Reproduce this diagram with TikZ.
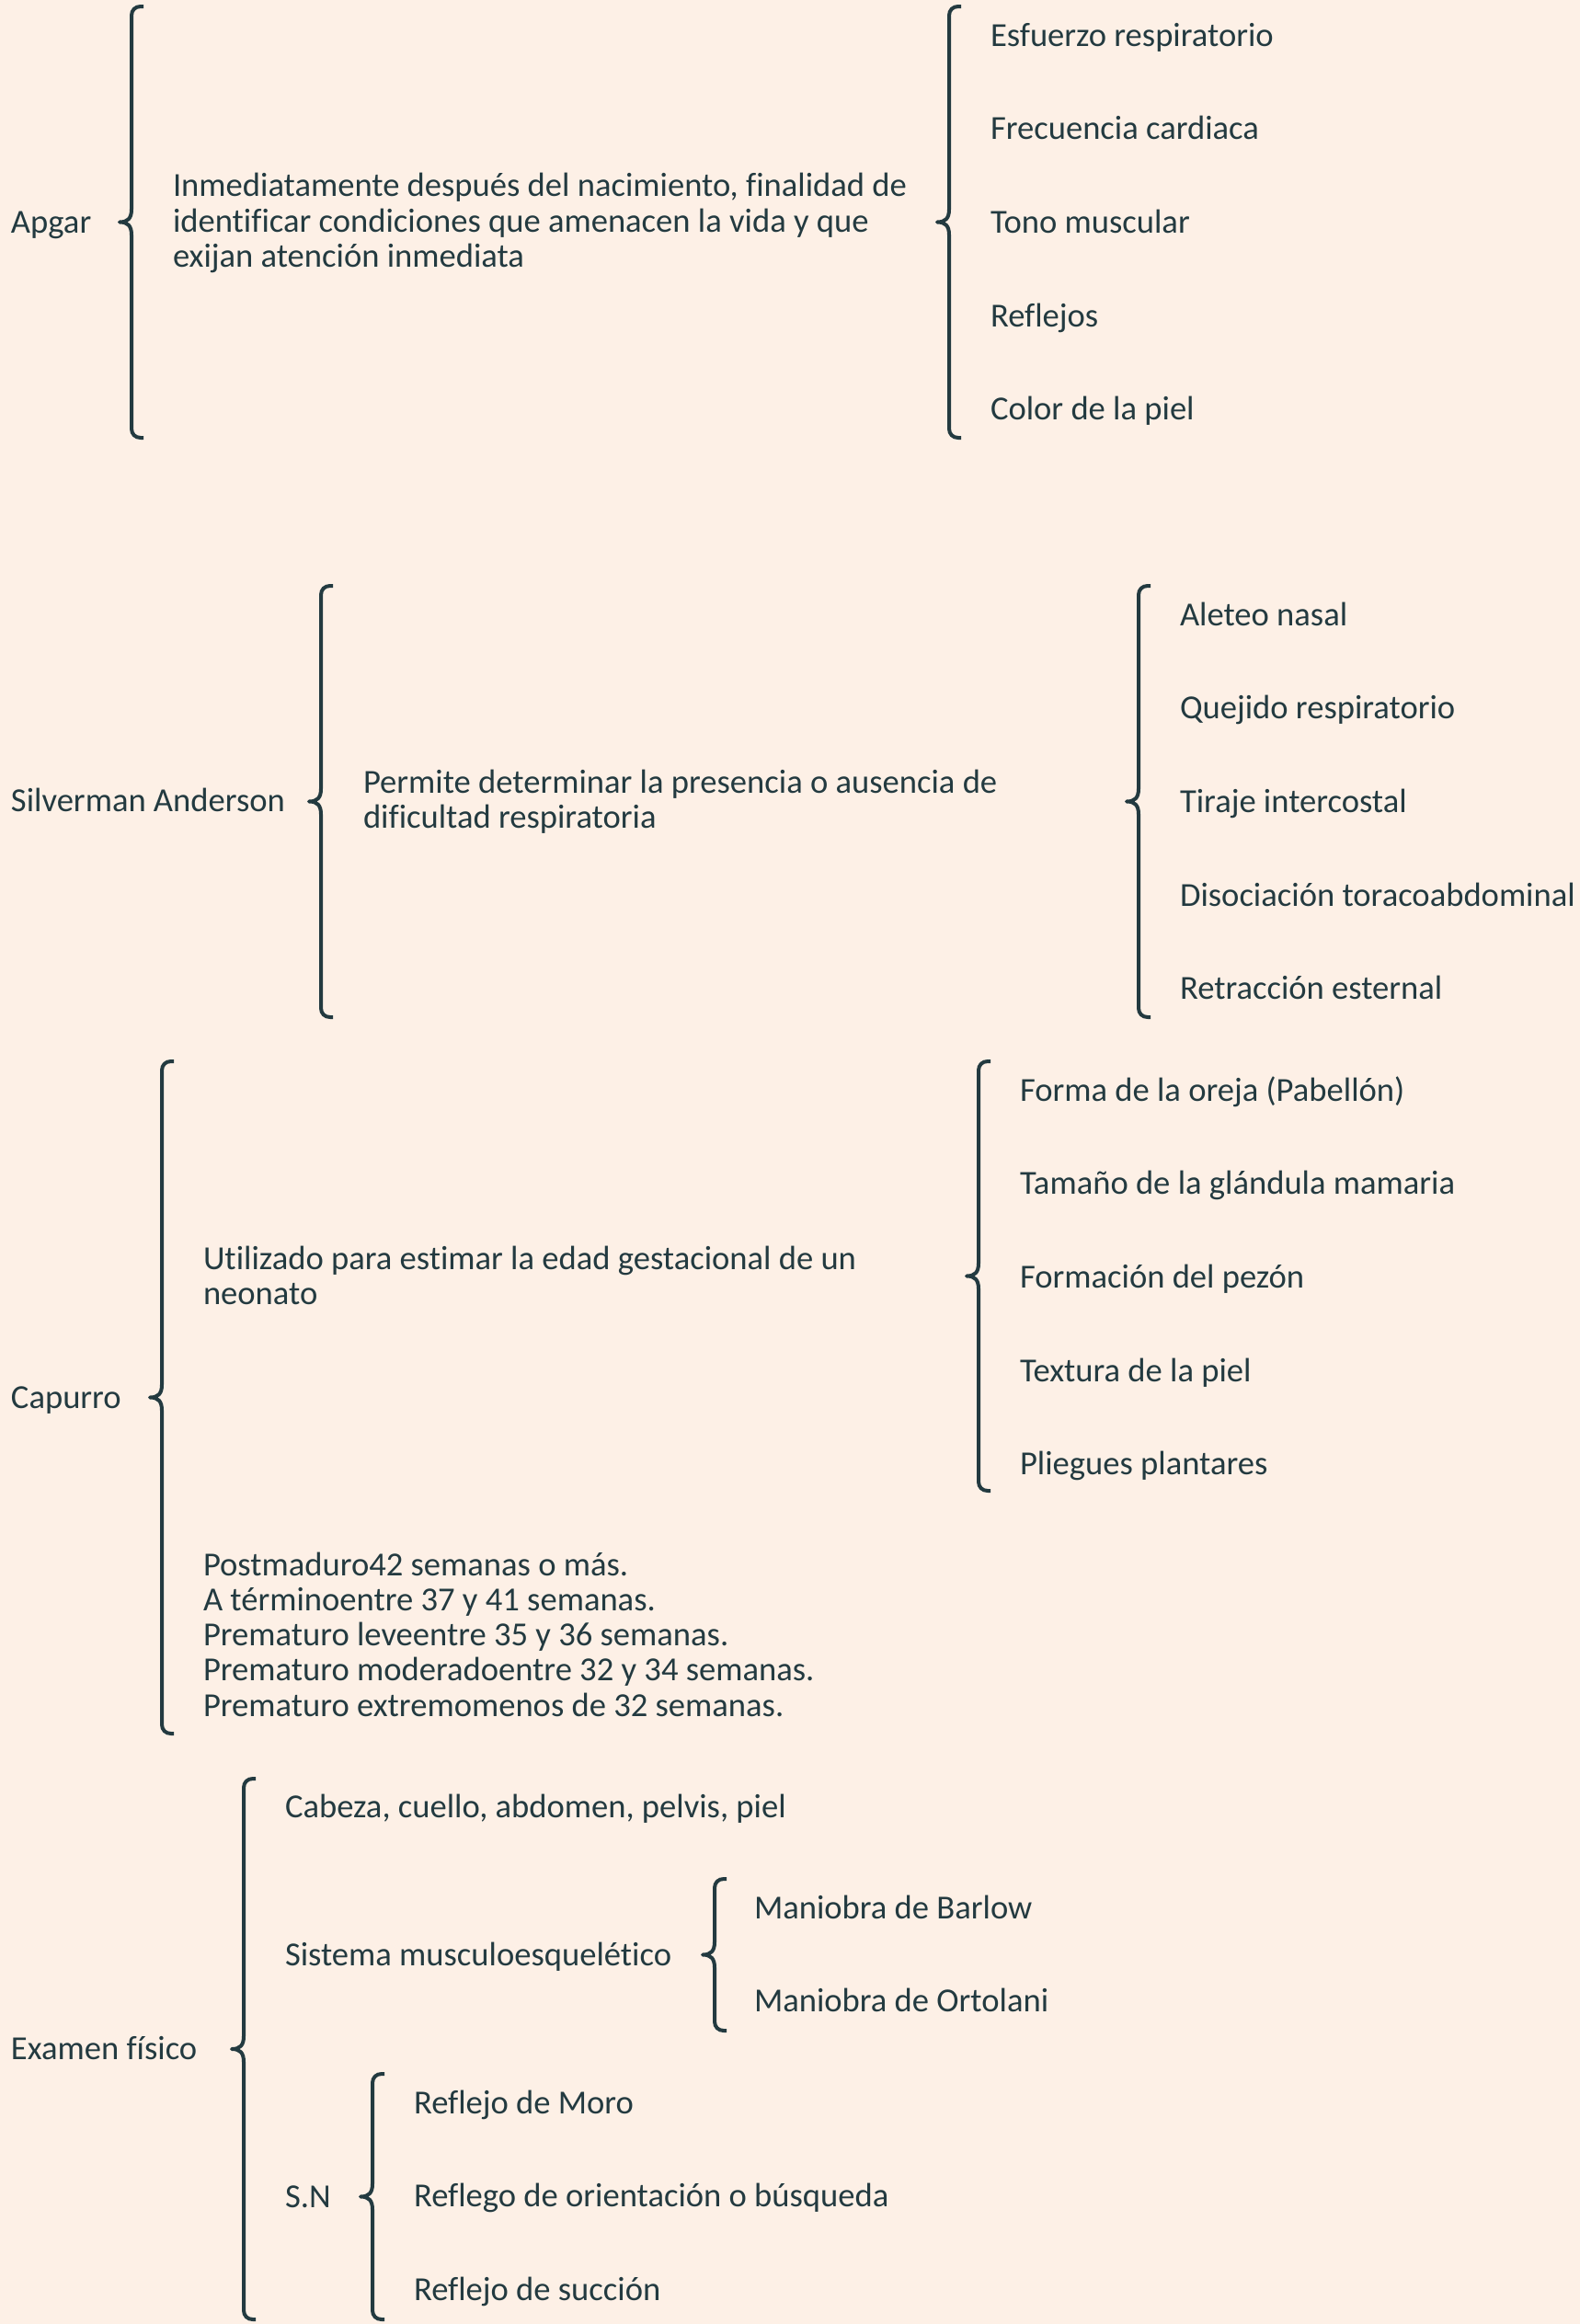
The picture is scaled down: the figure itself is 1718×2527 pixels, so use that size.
\documentclass[tikz,border=0pt]{standalone}
\usepackage{fontspec}
\setmainfont[Ligatures=NoCommon]{Carlito}
\definecolor{bg}{HTML}{FDF0E6}
\definecolor{ink}{HTML}{233A40}
\newlength\calw
\AtBeginDocument{%
  \settowidth\calw{\fontsize{20pt}{24pt}\selectfont Inmediatamente después del nacimiento, finalidad de}%
  \pgfmathsetmacro\fsz{798/\calw*20}%
  \xdef\fsz{\fsz}}
\def\txtfont{\fontsize{\fsz pt}{38.3pt}\selectfont}
\newcommand\mybrace[4]{%
  \pgfmathsetmacro\bmid{(#2+#3)/2}%
  \coordinate (#4-top) at (#1+13,#2);%
  \coordinate (#4-tip) at (#1-13,\bmid);%
  \coordinate (#4-bot) at (#1+13,#3);%
  \draw[brc] (#4-top) -- (#1+10,#2) .. controls (#1+4,#2) and (#1,#2+4) .. (#1,#2+10)
    -- (#1,\bmid-14) .. controls (#1,\bmid-4) and (#1-4,\bmid) .. (#4-tip)
    .. controls (#1-4,\bmid) and (#1,\bmid+4) .. (#1,\bmid+14)
    -- (#1,#3-10) .. controls (#1,#3-4) and (#1+4,#3) .. (#1+10,#3) -- (#4-bot);}
\begin{document}
\begin{tikzpicture}[x=1pt,y=-1pt,
  brc/.style={draw=ink,line width=4pt,line join=round},
  txt/.style={anchor=base west,inner sep=0pt,outer sep=0pt,text=ink,font=\txtfont}]
\fill[bg] (0,0) rectangle (1718,2527);
\useasboundingbox (0,0) rectangle (1718,2527);

% ---------- Apgar ----------
\node[txt] (apgar) at (12,253) {Apgar};
\mybrace{143}{7}{476}{bA}
\node[txt] (apgar-d1) at (188,213.5) {Inmediatamente después del nacimiento, finalidad de};
\node[txt] (apgar-d2) at (188,252) {identificar condiciones que amenacen la vida y que};
\node[txt] (apgar-d3) at (188,290.3) {exijan atención inmediata};
\mybrace{1032}{7}{476}{bA2}
\node[txt] (a1) at (1077,50) {Esfuerzo respiratorio};
\node[txt] (a2) at (1077,151.7) {Frecuencia cardiaca};
\node[txt] (a3) at (1077,253.4) {Tono muscular};
\node[txt] (a4) at (1077,355.1) {Reflejos};
\node[txt] (a5) at (1077,456.8) {Color de la piel};

% ---------- Silverman ----------
\node[txt] (silv) at (12,882) {Silverman Anderson};
\mybrace{349}{637}{1106}{bS}
\node[txt] (silv-d1) at (395,862.5) {Permite determinar la presencia o ausencia de};
\node[txt] (silv-d2) at (395,900.8) {dificultad respiratoria};
\mybrace{1238}{637}{1106}{bS2}
\node[txt] (s1) at (1283,680) {Aleteo nasal};
\node[txt] (s2) at (1283,781.7) {Quejido respiratorio};
\node[txt] (s3) at (1283,883.4) {Tiraje intercostal};
\node[txt] (s4) at (1283,985.1) {Disociación toracoabdominal};
\node[txt] (s5) at (1283,1086.8) {Retracción esternal};

% ---------- Capurro ----------
\node[txt] (cap) at (12,1531) {Capurro};
\mybrace{176}{1154}{1885}{bC}
\node[txt] (cap-d1) at (221,1380.4) {Utilizado para estimar la edad gestacional de un};
\node[txt] (cap-d2) at (221,1418.7) {neonato};
\mybrace{1064}{1154}{1621}{bC2}
\node[txt] (c1) at (1109,1197) {Forma de la oreja (Pabellón)};
\node[txt] (c2) at (1109,1298.7) {Tamaño de la glándula mamaria};
\node[txt] (c3) at (1109,1400.4) {Formación del pezón};
\node[txt] (c4) at (1109,1502.1) {Textura de la piel};
\node[txt] (c5) at (1109,1603.8) {Pliegues plantares};
\node[txt] (w1) at (221,1713) {Postmaduro42 semanas o más.};
\node[txt] (w2) at (221,1751.3) {A términoentre 37 y 41 semanas.};
\node[txt] (w3) at (221,1789.6) {Prematuro leveentre 35 y 36 semanas.};
\node[txt] (w4) at (221,1827.9) {Prematuro moderadoentre 32 y 34 semanas.};
\node[txt] (w5) at (221,1866.2) {Prematuro extremomenos de 32 semanas.};

% ---------- Examen fisico ----------
\node[txt] (ex) at (12,2239.5) {Examen físico};
\mybrace{265}{1934}{2522}{bE}
\node[txt] (e1) at (310,1976) {Cabeza, cuello, abdomen, pelvis, piel};
\node[txt] (e2) at (310,2137) {Sistema musculoesquelético};
\mybrace{777}{2043}{2208}{bM}
\node[txt] (m1) at (820,2086) {Maniobra de Barlow};
\node[txt] (m2) at (820,2187.7) {Maniobra de Ortolani};
\node[txt] (e3) at (310,2400) {S.N};
\mybrace{405}{2255}{2522}{bN}
\node[txt] (n1) at (450,2298) {Reflejo de Moro};
\node[txt] (n2) at (450,2399.7) {Reflego de orientación o búsqueda};
\node[txt] (n3) at (450,2501.4) {Reflejo de succión};
\end{tikzpicture}
\end{document}
